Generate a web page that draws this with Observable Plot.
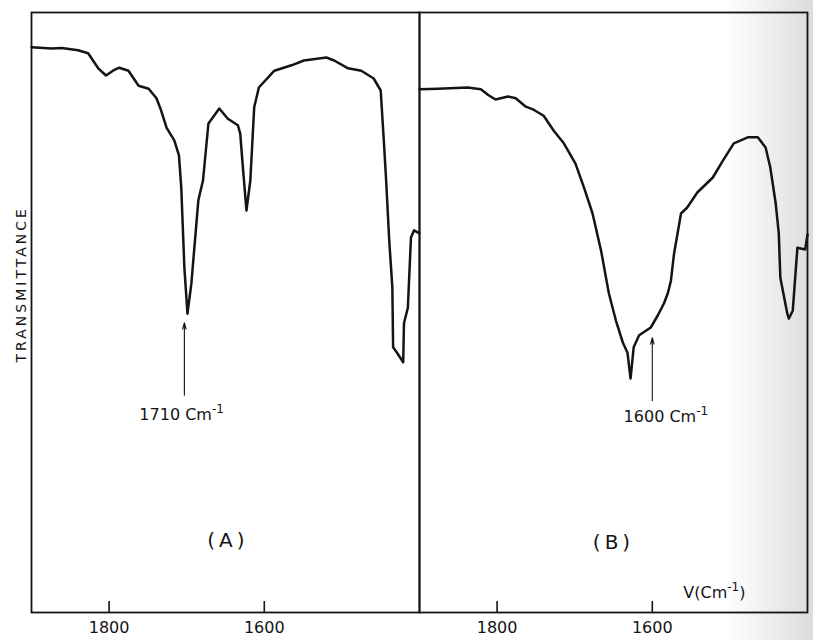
<!DOCTYPE html>
<html><head><meta charset="utf-8">
<script src="https://cdn.jsdelivr.net/npm/d3@7"></script>
<script src="https://cdn.jsdelivr.net/npm/@observablehq/plot@0.6"></script>
<style>
body{margin:0;background:#fff;}
</style>
</head><body>
<div id="chart"></div>
<script>
const panels = ["A", "B"];

// Spectrum (A)
const wavenumberA = [1900, 1874, 1861, 1840, 1827, 1814, 1804, 1795, 1787, 1775, 1762, 1749, 1739, 1733, 1726, 1716, 1710, 1707, 1703, 1699, 1694, 1685, 1679, 1672, 1658, 1647, 1634, 1631, 1628, 1623, 1618, 1613, 1607, 1587, 1565, 1549, 1520, 1510, 1492, 1475, 1459, 1450, 1446, 1443, 1439, 1435, 1434, 1429, 1421, 1420, 1415, 1411, 1407, 1400];
const transmittanceA = [94.2, 94.0, 94.1, 93.7, 93.2, 90.7, 89.5, 90.3, 90.8, 90.3, 87.8, 87.3, 85.7, 83.7, 80.8, 78.7, 76.2, 70.8, 57.5, 49.8, 54.8, 68.7, 72.0, 81.5, 84.0, 82.3, 81.2, 79.8, 74.8, 67.0, 72.0, 84.2, 87.5, 90.3, 91.2, 92.0, 92.5, 92.0, 90.7, 90.3, 89.0, 87.0, 78.7, 72.0, 62.0, 54.2, 44.2, 43.3, 41.7, 48.2, 50.8, 62.5, 63.7, 63.2];

// Spectrum (B)
const wavenumberB = [1900, 1876, 1838, 1821, 1811, 1802, 1786, 1776, 1763, 1753, 1740, 1727, 1714, 1699, 1688, 1677, 1666, 1656, 1647, 1638, 1632, 1628, 1624, 1617, 1602, 1593, 1585, 1580, 1576, 1572, 1563, 1555, 1542, 1522, 1509, 1495, 1477, 1464, 1454, 1448, 1441, 1437, 1435, 1426, 1424, 1419, 1413, 1403, 1400];
const transmittanceB = [87.2, 87.3, 87.5, 87.2, 86.2, 85.5, 86.0, 85.7, 84.3, 83.8, 82.8, 80.3, 78.2, 74.8, 70.8, 66.5, 60.3, 53.2, 48.7, 45.0, 43.3, 39.0, 44.2, 46.2, 47.5, 49.5, 51.5, 53.2, 55.3, 59.8, 66.5, 67.5, 70.0, 72.5, 75.3, 78.2, 79.2, 79.2, 77.5, 74.2, 68.2, 63.2, 55.8, 49.8, 49.0, 50.3, 60.8, 60.5, 63.0];

// Axis
const tickValues = [1800, 1600];
const tickLabels = ["1800", "1600"];
const yTitle = "TRANSMITTANCE";
const xTitle = "V(Cm⁻¹)";
const xTitlePanel = "B";
const xTitlePos = [1560, 3.2];
const yTitlePos = 54.7;

// Peak annotations
const peakPanels = ["A", "B"];
const peakLabels = ["1710 Cm⁻¹", "1600 Cm⁻¹"];
const arrowX = [1703, 1600];
const arrowFrom = [36.2, 35.3];
const arrowTo = [48.3, 45.8];
const peakLabelX = [1761, 1637];
const peakLabelY = [33.0, 32.6];

// Panel labels
const panelLabels = ["(A)", "(B)"];
const panelLabelX = [1647, 1650];
const panelLabelY = [12.0, 11.7];

const spectrum = [
  ...wavenumberA.map((w, i) => ({panel: "A", wn: w, t: transmittanceA[i]})),
  ...wavenumberB.map((w, i) => ({panel: "B", wn: w, t: transmittanceB[i]}))
];
const peaks = peakPanels.map((p, i) => ({panel: p, x: arrowX[i], y1: arrowFrom[i], y2: arrowTo[i], lx: peakLabelX[i], ly: peakLabelY[i], label: peakLabels[i]}));
const panelNotes = panels.map((p, i) => ({panel: p, x: panelLabelX[i], y: panelLabelY[i], label: panelLabels[i]}));

const ink = "#141414";
const font = "'DejaVu Sans', 'Liberation Sans', sans-serif";
const plotHeight = 640, marginTop = 12, marginBottom = 28, tickLength = 11;

const chart = Plot.plot({
  width: 813,
  height: plotHeight,
  marginLeft: 30,
  marginRight: 6,
  marginTop,
  marginBottom,
  style: {
    fontFamily: font,
    fontSize: "16px",
    color: ink,
    background: "linear-gradient(to right, #ffffff 0px, #ffffff 725px, #eeeeee 770px, #dcdcdc 813px)"
  },
  fx: {domain: panels, padding: 0, axis: null, label: null},
  x: {domain: [1900, 1400], label: null},
  y: {domain: [0, 100], axis: null},
  marks: [
    Plot.frame({stroke: ink, strokeWidth: 1.8}),
    Plot.ruleX(tickValues, {x: d => d, stroke: ink, strokeWidth: 1.6,
      insetTop: plotHeight - marginTop - marginBottom - tickLength}),
    Plot.axisX({ticks: tickValues, tickSize: 0, tickPadding: 9, fontSize: 16, fill: ink, label: null,
      tickFormat: d => tickLabels[tickValues.indexOf(d)]}),
    Plot.line(spectrum, {fx: "panel", x: "wn", y: "t", stroke: ink, strokeWidth: 2.5, strokeLinejoin: "round"}),
    Plot.arrow(peaks, {fx: "panel", x1: "x", x2: "x", y1: "y1", y2: "y2", stroke: ink, strokeWidth: 1.1, headLength: 9, headAngle: 30}),
    Plot.text(peaks, {fx: "panel", x: "lx", y: "ly", text: "label", textAnchor: "start", fontSize: 16, fill: ink}),
    Plot.text(panelNotes, {fx: "panel", x: "x", y: "y", text: "label", fontSize: 20, fill: ink}),
    Plot.text([{panel: xTitlePanel, x: xTitlePos[0], y: xTitlePos[1], label: xTitle}],
      {fx: "panel", x: "x", y: "y", text: "label", textAnchor: "start", fontSize: 16, fill: ink}),
    Plot.text([{panel: "A", y: yTitlePos, label: yTitle}],
      {fx: "panel", frameAnchor: "left", y: "y", text: "label", rotate: -90, textAnchor: "middle", dx: -10, fontSize: 14, fill: ink})
  ]
});

document.getElementById("chart").appendChild(chart);

d3.select(chart).selectAll("text").each(function () {
  const t = this.textContent;
  const sel = d3.select(this);
  if (t === yTitle) sel.attr("letter-spacing", 3);
  if (panelLabels.includes(t)) sel.attr("letter-spacing", 4);
  if (t.includes("⁻¹")) {
    const [before, after] = t.split("⁻¹");
    sel.text(null);
    sel.append("tspan").text(before);
    sel.append("tspan").attr("dy", -7).attr("font-size", 12).text("-1");
    if (after) sel.append("tspan").attr("dy", 7).text(after);
  }
});
</script>
</body></html>
